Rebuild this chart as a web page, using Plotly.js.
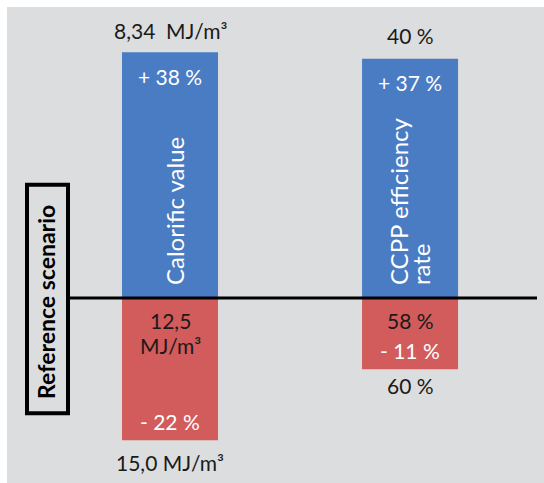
<!DOCTYPE html>
<html>
<head>
<meta charset="utf-8">
<script src="https://cdn.plot.ly/plotly-3.0.1.min.js"></script>
<style>html,body{margin:0;padding:0;background:#fff;}#chart{width:544px;height:483px;}</style>
</head>
<body>
<div id="chart"></div>
<script>
// Data
const categories = [0, 1];
const categoryNames = [["Calorific value"], ["CCPP efficiency", "rate"]];
const upValues = [38, 37];
const downValues = [-22, -11];
const upLabels = ["+ 38 %", "+ 37 %"];
const downLabels = ["- 22 %", "- 11 %"];
const topLabels = ["8,34  MJ/m³", "40 %"];
const bottomLabels = ["15,0 MJ/m³", "60 %"];
const referenceLabels = [["12,5", "MJ/m³"], ["58 %"]];
const referenceTitle = "Reference scenario";

const blue = "#4a7cc4";
const red = "#d25b5b";
const font = "Lato, sans-serif";

const traces = [
  {type: "bar", x: categories, y: upValues, width: 0.4, marker: {color: blue}, hoverinfo: "skip"},
  {type: "bar", x: categories, y: downValues, width: 0.4, marker: {color: red}, hoverinfo: "skip"}
];

const ann = [];
const topShift = [22, 23];
const bottomShift = [-22, -16];
categories.forEach((c, i) => {
  ann.push({x: c, y: upValues[i], text: topLabels[i], showarrow: false, yanchor: "middle", yshift: topShift[i], font: {family: font, size: 21, color: "#1a1a1a"}});
  ann.push({x: c, y: upValues[i], text: upLabels[i], showarrow: false, yanchor: "middle", yshift: -24, font: {family: font, size: 21, color: "#ffffff"}});
  ann.push({x: c, y: downValues[i], text: downLabels[i], showarrow: false, yanchor: "middle", yshift: 19, font: {family: font, size: 21, color: "#ffffff"}});
  ann.push({x: c, y: downValues[i], text: bottomLabels[i], showarrow: false, yanchor: "middle", yshift: bottomShift[i], font: {family: font, size: 21, color: "#1a1a1a"}});
  referenceLabels[i].forEach((t, j) => {
    ann.push({x: c, y: 0, text: t, showarrow: false, yanchor: "middle", yshift: -22 - 25 * j, font: {family: font, size: 21, color: "#1a1a1a"}});
  });
  const lines = categoryNames[i];
  lines.forEach((t, j) => {
    const xs = lines.length === 1 ? 4 : (j === 0 ? -12 : 10);
    ann.push({x: c, y: 0, text: t, showarrow: false, textangle: -90, yanchor: "bottom", yshift: 11, xshift: xs, font: {family: font, size: 24, color: "#ffffff"}});
  });
});
ann.push({xref: "paper", yref: "y", x: (46 - 7) / 537, xanchor: "center", yanchor: "middle", y: -0.6, text: "<b>" + referenceTitle + "</b>", showarrow: false, textangle: -90, font: {family: font, size: 23, color: "#000"}});

const layout = {
  width: 544, height: 483,
  margin: {l: 7, r: 0, t: 7, b: 0, pad: 0},
  paper_bgcolor: "#ffffff",
  plot_bgcolor: "#dcdddf",
  barmode: "relative",
  showlegend: false,
  xaxis: {range: [-0.679, 1.558], visible: false, fixedrange: true},
  yaxis: {range: [-28.6, 45], visible: false, fixedrange: true},
  annotations: ann,
  shapes: [
    {type: "line", xref: "paper", yref: "y", x0: (68 - 7) / 537, x1: (537 - 7) / 537, y0: 0, y1: 0, line: {color: "#000", width: 3}},
    {type: "rect", xref: "paper", yref: "y", x0: (27 - 7) / 537, x1: (68 - 7) / 537, y0: 17.5, y1: -17.8, line: {color: "#000", width: 4}, fillcolor: "rgba(0,0,0,0)"}
  ]
};

Plotly.newPlot("chart", traces, layout, {displayModeBar: false, staticPlot: true});
</script>
</body>
</html>
